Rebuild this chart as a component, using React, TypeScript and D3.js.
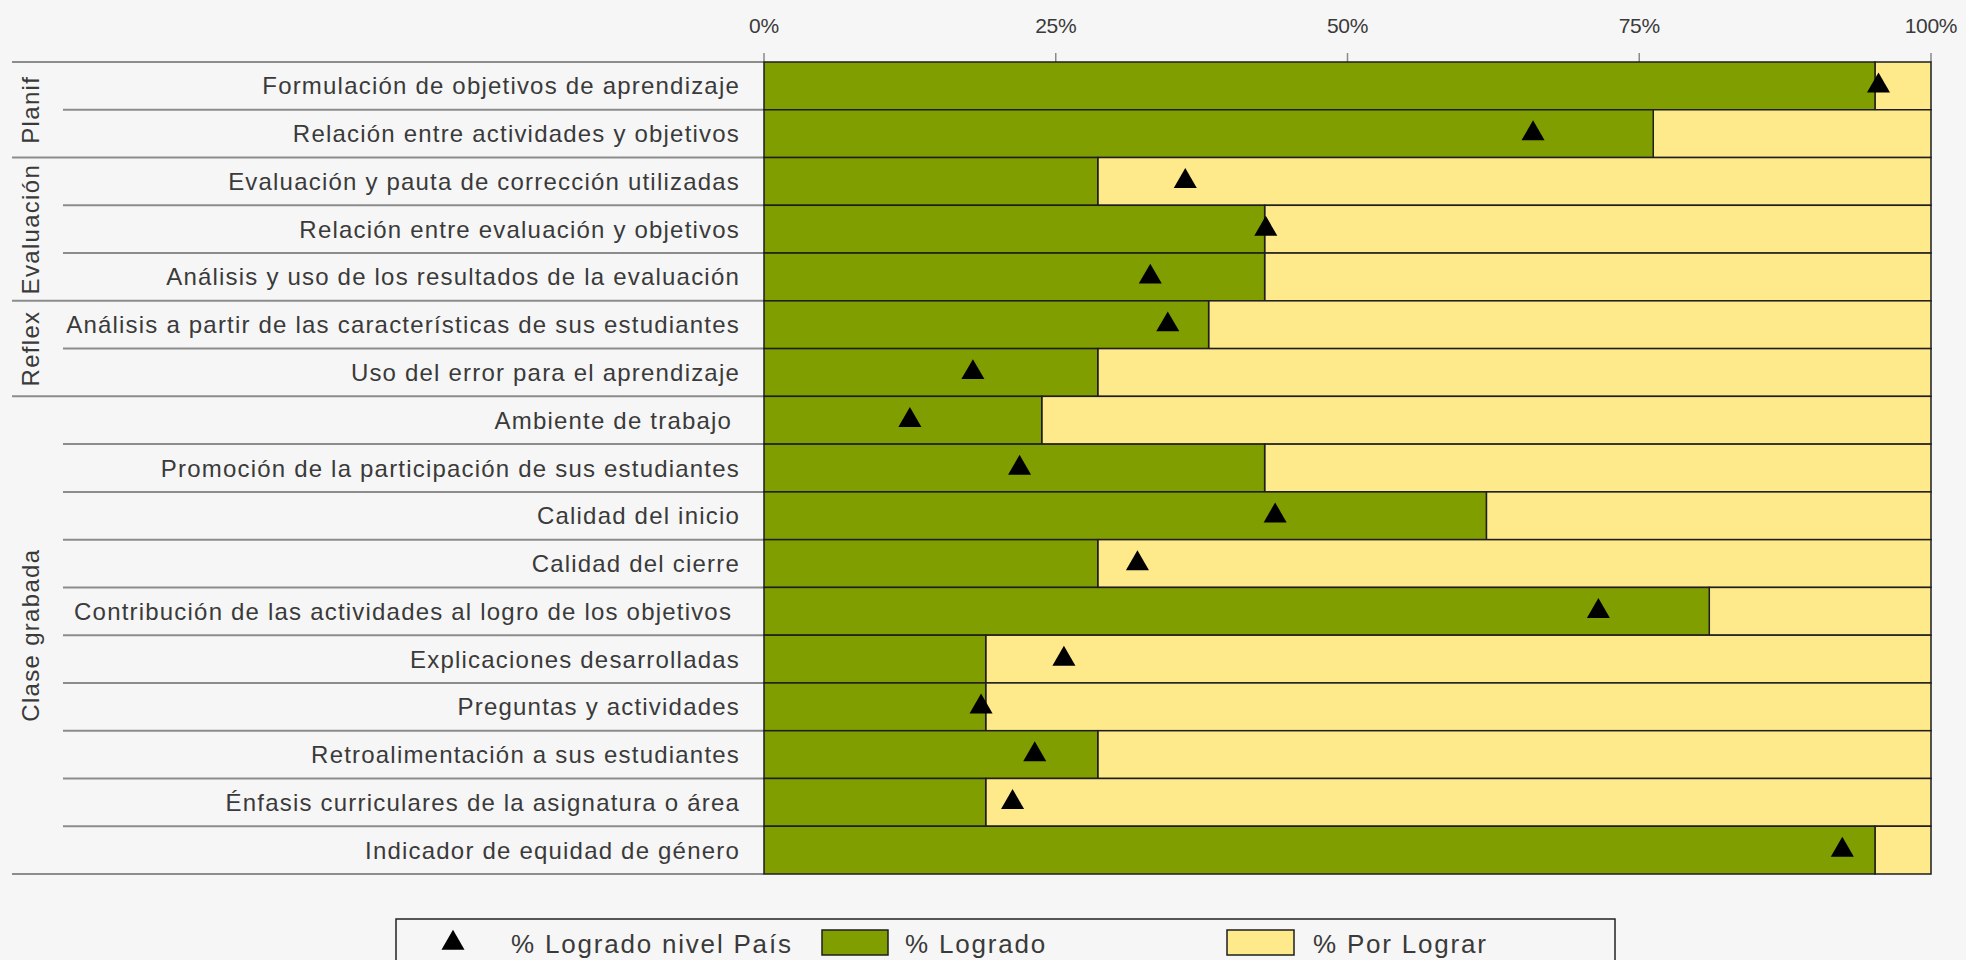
import React from "react";
import * as d3 from "d3";

const categories = [
  "Formulación de objetivos de aprendizaje",
  "Relación entre actividades y objetivos",
  "Evaluación y pauta de corrección utilizadas",
  "Relación entre evaluación y objetivos",
  "Análisis y uso de los resultados de la evaluación",
  "Análisis a partir de las características de sus estudiantes",
  "Uso del error para el aprendizaje",
  "Ambiente de trabajo ",
  "Promoción de la participación de sus estudiantes",
  "Calidad del inicio",
  "Calidad del cierre",
  "Contribución de las actividades al logro de los objetivos ",
  "Explicaciones desarrolladas",
  "Preguntas y actividades",
  "Retroalimentación a sus estudiantes",
  "Énfasis curriculares de la asignatura o área",
  "Indicador de equidad de género",
];

const logrado = [95.2, 76.2, 28.6, 42.9, 42.9, 38.1, 28.6, 23.8, 42.9, 61.9, 28.6, 81.0, 19.0, 19.0, 28.6, 19.0, 95.2];
const logradoPais = [95.5, 65.9, 36.1, 43.0, 33.1, 34.6, 17.9, 12.5, 21.9, 43.8, 32.0, 71.5, 25.7, 18.6, 23.2, 21.3, 92.4];

const groupNames = ["Planif", "Evaluación", "Reflex", "Clase grabada"];
const groupSizes = [2, 3, 2, 10];

const tickValues = [0, 25, 50, 75, 100];
const tickLabels = ["0%", "25%", "50%", "75%", "100%"];

const legendLabels = ["% Logrado nivel País", "% Logrado", "% Por Lograr"];

const GREEN = "#819e00";
const YELLOW = "#ffea8b";
const BG = "#f6f6f6";
const TEXT = "#3a3a3a";
const FONT = "'Liberation Sans', Arial, sans-serif";

export default function App() {
  const W = 1966;
  const H = 960;
  const x = d3.scaleLinear().domain([0, 100]).range([764, 1931]);
  const y = d3.scaleBand<number>().domain(d3.range(categories.length)).range([62, 874]).paddingInner(0).paddingOuter(0);
  const bw = y.bandwidth();
  const tri = d3.symbol().type(d3.symbolTriangle).size(230)();

  const groupStarts: number[] = [];
  let acc = 0;
  groupSizes.forEach((s) => {
    groupStarts.push(acc);
    acc += s;
  });

  const rowLines: { y: number; x0: number }[] = [];
  for (let i = 0; i <= categories.length; i++) {
    const isGroup = i === categories.length || groupStarts.includes(i);
    const yy = i === categories.length ? y.range()[1] : (y(i) as number);
    rowLines.push({ y: yy, x0: isGroup ? 12 : 63 });
  }

  return (
    <svg width={W} height={H} style={{ position: "absolute", left: 0, top: 0, display: "block" }} fontFamily={FONT}>
      <rect x={0} y={0} width={W} height={H} fill={BG} />

      {tickValues.map((t, i) => (
        <g key={t}>
          <line x1={x(t)} x2={x(t)} y1={53} y2={62} stroke="#8a8a8a" strokeWidth={1.5} />
          <text x={x(t)} y={25} textAnchor="middle" dominantBaseline="central" fontSize={21} fill={TEXT} letterSpacing={-0.3}>
            {tickLabels[i]}
          </text>
        </g>
      ))}

      {rowLines.map((r, i) => (
        <line key={i} x1={r.x0} x2={764} y1={r.y} y2={r.y} stroke="#8c8c8c" strokeWidth={2} />
      ))}

      {groupNames.map((g, i) => {
        const y0 = y(groupStarts[i]) as number;
        const y1 = y0 + groupSizes[i] * bw;
        const cy = (y0 + y1) / 2;
        return (
          <text key={g} transform={`translate(30,${cy}) rotate(-90)`} textAnchor="middle" dominantBaseline="central" fontSize={24} fill={TEXT} letterSpacing={1.3}>
            {g}
          </text>
        );
      })}

      {categories.map((c, i) => (
        <text key={i} x={740} y={(y(i) as number) + bw / 2} textAnchor="end" dominantBaseline="central" fontSize={24} fill={TEXT} style={{ whiteSpace: "pre" }} letterSpacing={1.2}>
          {c}
        </text>
      ))}

      {categories.map((c, i) => (
        <g key={"b" + i}>
          <rect x={x(logrado[i])} y={y(i)} width={x(100) - x(logrado[i])} height={bw} fill={YELLOW} stroke="#1e1e1e" strokeWidth={1.5} />
          <rect x={x(0)} y={y(i)} width={x(logrado[i]) - x(0)} height={bw} fill={GREEN} stroke="#1e1e1e" strokeWidth={1.5} />
        </g>
      ))}

      {categories.map((c, i) => (
        <path key={"t" + i} d={tri || ""} transform={`translate(${x(logradoPais[i])},${(y(i) as number) + bw / 2})`} fill="#000" />
      ))}

      <rect x={396} y={919} width={1219} height={70} fill={BG} stroke="#222" strokeWidth={1.5} />
      <path d={tri || ""} transform={`translate(453,943)`} fill="#000" />
      <text x={511} y={944} dominantBaseline="central" fontSize={26} fill={TEXT} letterSpacing={1.8}>{legendLabels[0]}</text>
      <rect x={822} y={930} width={66} height={25} fill={GREEN} stroke="#1e1e1e" strokeWidth={1.5} />
      <text x={905} y={944} dominantBaseline="central" fontSize={26} fill={TEXT} letterSpacing={1.8}>{legendLabels[1]}</text>
      <rect x={1227} y={930} width={67} height={25} fill={YELLOW} stroke="#1e1e1e" strokeWidth={1.5} />
      <text x={1313} y={944} dominantBaseline="central" fontSize={26} fill={TEXT} letterSpacing={1.8}>{legendLabels[2]}</text>
    </svg>
  );
}
